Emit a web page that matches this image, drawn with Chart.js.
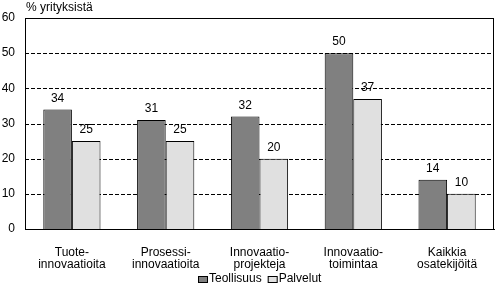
<!DOCTYPE html>
<html>
<head>
<meta charset="utf-8">
<script src="https://cdn.jsdelivr.net/npm/chart.js@4/dist/chart.umd.min.js"></script>
<style>
  html, body { margin: 0; padding: 0; background: #fff; }
  #wrap { width: 495px; height: 288px; }
</style>
</head>
<body>
<div id="wrap"><canvas id="kuva"></canvas></div>
<script>
// tiedot
const luokat = [
  ["Tuote-", "innovaatioita"],
  ["Prosessi-", "innovaatioita"],
  ["Innovaatio-", "projekteja"],
  ["Innovaatio-", "toimintaa"],
  ["Kaikkia", "osatekijöitä"]
];
const teollisuus = [34, 31, 32, 50, 14];
const palvelut = [25, 25, 20, 37, 10];
const yAkseliOtsikko = "% yrityksistä";

const fontti = "'Liberation Sans', Arial, sans-serif";
Chart.defaults.font.family = fontti;
Chart.defaults.font.size = 12;
Chart.defaults.color = "#000";

// katkoviivat y-asteikon mukaan, ennen pylväitä
const ruudukkoPlugin = {
  id: "ruudukko",
  beforeDatasetsDraw(chart) {
    const ctx = chart.ctx;
    const ca = chart.chartArea;
    const y = chart.scales.y;
    ctx.save();
    ctx.strokeStyle = "#000";
    ctx.lineWidth = 1;
    ctx.setLineDash([4, 2]);
    y.ticks.forEach(t => {
      if (t.value <= y.min || t.value >= y.max) return;
      const py = Math.round(y.getPixelForValue(t.value)) + 0.5;
      ctx.beginPath();
      ctx.moveTo(ca.left, py);
      ctx.lineTo(ca.right, py);
      ctx.stroke();
    });
    ctx.restore();
  }
};

// arvot pylväiden päälle, kehys, akselin otsikko ja selite
const arvoPlugin = {
  id: "arvot",
  afterDraw(chart) {
    const ctx = chart.ctx;
    const ca = chart.chartArea;
    ctx.save();
    ctx.strokeStyle = "#000";
    ctx.lineWidth = 1;
    ctx.setLineDash([]);
    ctx.strokeRect(Math.round(ca.left) + 0.5, Math.round(ca.top) + 0.5,
      Math.round(ca.right - ca.left) - 1, Math.round(ca.bottom - ca.top));
    ctx.font = "12px " + fontti;
    ctx.fillStyle = "#000";
    ctx.textAlign = "center";
    ctx.textBaseline = "bottom";
    chart.data.datasets.forEach((ds, i) => {
      chart.getDatasetMeta(i).data.forEach((el, j) => {
        ctx.fillText(ds.data[j], el.x, el.y - 5);
      });
    });
    ctx.textAlign = "left";
    ctx.fillText(yAkseliOtsikko, ca.left + 1, ca.top - 4);

    // selite
    const ds = chart.data.datasets;
    const laatikkoL = 10, laatikkoK = 7, vali = 1, rako = 6;
    let leveys = 0;
    ds.forEach((d, i) => {
      leveys += laatikkoL + vali + ctx.measureText(d.label).width + (i < ds.length - 1 ? rako : 0);
    });
    let x = Math.round((ca.left + ca.right) / 2 - leveys / 2);
    const yk = 279;
    ctx.textBaseline = "middle";
    ds.forEach(d => {
      ctx.fillStyle = d.backgroundColor;
      ctx.fillRect(x, yk - 3, laatikkoL, laatikkoK);
      ctx.strokeRect(x + 0.5, yk - 3 + 0.5, laatikkoL - 1, laatikkoK - 1);
      x += laatikkoL + vali;
      ctx.fillStyle = "#000";
      ctx.fillText(d.label, x, yk);
      x += ctx.measureText(d.label).width + rako;
    });
    ctx.restore();
  }
};

new Chart(document.getElementById("kuva"), {
  type: "bar",
  data: {
    labels: luokat,
    datasets: [
      {
        label: "Teollisuus",
        data: teollisuus,
        backgroundColor: "#808080",
        borderColor: "#000",
        borderWidth: 1
      },
      {
        label: "Palvelut",
        data: palvelut,
        backgroundColor: "#e0e0e0",
        borderColor: "#000",
        borderWidth: 1
      }
    ]
  },
  options: {
    responsive: true,
    maintainAspectRatio: false,
    animation: false,
    layout: { padding: { top: 18, right: 1, left: 0, bottom: 0 } },
    datasets: { bar: { barPercentage: 1, categoryPercentage: 0.61 } },
    plugins: {
      legend: { display: false },
      tooltip: { enabled: false }
    },
    scales: {
      x: {
        grid: { display: false },
        border: { display: true, color: "#000" },
        ticks: { padding: 10, maxRotation: 0, font: { size: 12, lineHeight: 1.0 } },
        afterFit(s) { s.height = 59; }
      },
      y: {
        min: 0,
        max: 60,
        ticks: { stepSize: 10, padding: 10, font: { size: 12 } },
        grid: { display: false, drawTicks: false },
        border: { display: true, color: "#000" },
        afterFit(s) { s.width = 25; }
      }
    }
  },
  plugins: [ruudukkoPlugin, arvoPlugin]
});
</script>
</body>
</html>
